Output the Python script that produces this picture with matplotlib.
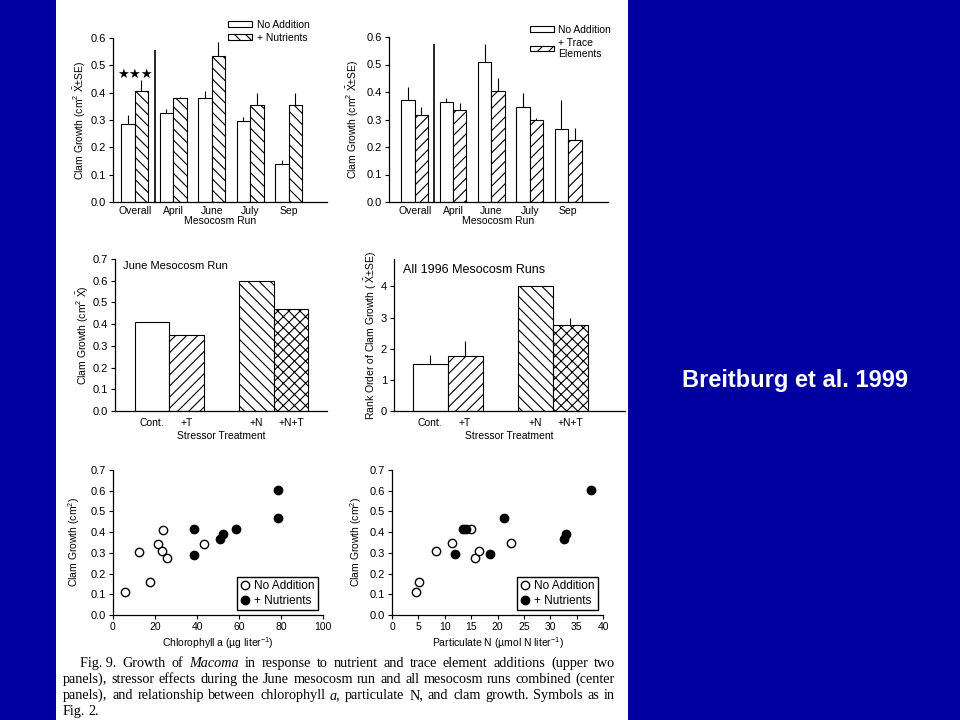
import matplotlib
matplotlib.use('Agg')
import matplotlib.pyplot as plt
from matplotlib.patches import Rectangle
from matplotlib.lines import Line2D

# --- data ---
runs = ['Overall', 'April', 'June', 'July', 'Sep']
nut_none = [0.285, 0.325, 0.38, 0.295, 0.14]
nut_none_se = [0.035, 0.015, 0.025, 0.015, 0.015]
nut_add = [0.405, 0.38, 0.535, 0.355, 0.355]
nut_add_se = [0.04, 0.005, 0.05, 0.045, 0.045]

tr_none = [0.37, 0.365, 0.51, 0.345, 0.265]
tr_none_se = [0.05, 0.015, 0.065, 0.05, 0.105]
tr_add = [0.315, 0.335, 0.405, 0.30, 0.225]
tr_add_se = [0.03, 0.025, 0.045, 0.005, 0.045]

treatments = ['Cont.', '+T', '+N', '+N+T']
june_growth = [0.41, 0.35, 0.60, 0.47]
rank_growth = [1.5, 1.75, 4.0, 2.75]
rank_se = [0.3, 0.5, 0.0, 0.25]

chl_open = [5.6, 12.3, 17.4, 21.4, 23.5, 23.7, 25.8, 43.4]
chl_open_g = [0.11, 0.306, 0.158, 0.345, 0.311, 0.41, 0.277, 0.345]
chl_fill = [38.7, 38.7, 50.9, 52.5, 58.7, 78.6, 78.6]
chl_fill_g = [0.415, 0.29, 0.365, 0.39, 0.417, 0.604, 0.467]

pn_open = [4.6, 5.2, 8.4, 11.3, 14.9, 15.7, 16.5, 22.5]
pn_open_g = [0.113, 0.161, 0.311, 0.346, 0.414, 0.277, 0.309, 0.346]
pn_fill = [11.9, 13.5, 14.0, 18.6, 21.3, 32.6, 33.0, 37.8]
pn_fill_g = [0.293, 0.417, 0.417, 0.293, 0.467, 0.366, 0.39, 0.604]

plt.rcParams['font.family'] = ['Liberation Sans', 'DejaVu Sans']
plt.rcParams['mathtext.fontset'] = 'custom'
plt.rcParams['mathtext.rm'] = 'Liberation Sans'
plt.rcParams['mathtext.it'] = 'Liberation Sans:italic'
plt.rcParams['hatch.linewidth'] = 0.8
plt.rcParams['font.size'] = 7.5

W, H = 960, 720
fig = plt.figure(figsize=(9.6, 7.2), dpi=100, facecolor='#0000a0')
fig.patches.append(Rectangle((56 / W, 0), (628 - 56) / W, 1, transform=fig.transFigure,
                             facecolor='white', edgecolor='none', zorder=-10))


def box(l, t, r, b):
    return [l / W, 1 - b / H, (r - l) / W, (b - t) / H]


def style(ax):
    ax.set_facecolor('none')
    for s in ['top', 'right']:
        ax.spines[s].set_visible(False)
    for s in ['left', 'bottom']:
        ax.spines[s].set_linewidth(0.9)
    ax.tick_params(axis='y', direction='out', length=3, width=0.8, labelsize=8, pad=2)
    ax.tick_params(axis='x', direction='out', length=3, width=0.8, labelsize=7.5, pad=2)


bar_kw = dict(edgecolor='black', linewidth=0.8)
err_kw = dict(fmt='none', ecolor='black', elinewidth=0.8, capsize=0)
xs = list(range(len(runs)))
w = 0.35

# --- panel 1: nutrients ---
ax1 = fig.add_axes(box(113, 38, 327, 202))
style(ax1)
b1 = ax1.bar([x - w / 2 for x in xs], nut_none, w, color='white', **bar_kw, label='No Addition')
b2 = ax1.bar([x + w / 2 for x in xs], nut_add, w, color='white', hatch='\\\\\\', **bar_kw, label='+ Nutrients')
ax1.errorbar([x - w / 2 for x in xs], nut_none, yerr=[[0] * 5, nut_none_se], **err_kw)
ax1.errorbar([x + w / 2 for x in xs], nut_add, yerr=[[0] * 5, nut_add_se], **err_kw)
ax1.vlines(0.52, 0, 0.555, color='black', linewidth=1.2)
ax1.text(0.0, 0.465, '★★★', ha='center', va='center', fontsize=9.5, family='DejaVu Sans')
ax1.set_xlim(-0.565, 5.0)
ax1.set_ylim(0, 0.6)
ax1.set_xticks(xs)
ax1.set_xticklabels(runs)
ax1.tick_params(axis='x', length=0, pad=3)
ax1.set_yticks([0, 0.1, 0.2, 0.3, 0.4, 0.5, 0.6])
ax1.set_yticklabels(['0.0', '0.1', '0.2', '0.3', '0.4', '0.5', '0.6'])
ax1.set_xlabel('Mesocosm Run', labelpad=0)
ax1.set_ylabel(r'Clam Growth (cm$^2$ $\bar{\mathrm{X}}$±SE)', labelpad=2)
ax1.legend(handles=[b1, b2], loc='upper left', bbox_to_anchor=(228 / W, 1 - 20 / H),
           bbox_transform=fig.transFigure, frameon=False, handlelength=2.3, handleheight=0.45,
           handletextpad=0.5, labelspacing=0.25, borderpad=0, borderaxespad=0, fontsize=7.5)

# --- panel 2: trace elements ---
ax2 = fig.add_axes(box(389, 37, 608, 202))
style(ax2)
c1 = ax2.bar([x - w / 2 for x in xs], tr_none, w, color='white', **bar_kw, label='No Addition')
c2 = ax2.bar([x + w / 2 for x in xs], tr_add, w, color='white', hatch='///', **bar_kw, label='+ Trace\nElements')
ax2.errorbar([x - w / 2 for x in xs], tr_none, yerr=[[0] * 5, tr_none_se], **err_kw)
ax2.errorbar([x + w / 2 for x in xs], tr_add, yerr=[[0] * 5, tr_add_se], **err_kw)
ax2.vlines(0.5, 0, 0.575, color='black', linewidth=1.2)
ax2.set_xlim(-0.67, 5.04)
ax2.set_ylim(0, 0.6)
ax2.set_xticks(xs)
ax2.set_xticklabels(runs)
ax2.tick_params(axis='x', length=0, pad=3)
ax2.set_yticks([0, 0.1, 0.2, 0.3, 0.4, 0.5, 0.6])
ax2.set_yticklabels(['0.0', '0.1', '0.2', '0.3', '0.4', '0.5', '0.6'])
ax2.set_xlabel('Mesocosm Run', labelpad=0)
ax2.set_ylabel(r'Clam Growth (cm$^2$ $\bar{\mathrm{X}}$±SE)', labelpad=4)
ax2.legend(handles=[c1, c2], loc='upper left', bbox_to_anchor=(530 / W, 1 - 25 / H),
           bbox_transform=fig.transFigure, frameon=False, handlelength=2.3, handleheight=0.45,
           handletextpad=0.4, labelspacing=0.25, borderpad=0, borderaxespad=0, fontsize=7.5)

# --- panels 3 and 4: stressor treatment ---
tx = [0, 1, 3, 4]
hatches = [None, '///', '\\\\\\', 'xxx']

ax3 = fig.add_axes(box(115, 259, 327, 411))
style(ax3)
for x, v, h in zip(tx, june_growth, hatches):
    ax3.bar(x, v, 1.0, color='white', hatch=h, **bar_kw)
ax3.set_xlim(-1.07, 5.04)
ax3.set_ylim(0, 0.7)
ax3.set_xticks(tx)
ax3.set_xticklabels(treatments)
ax3.tick_params(axis='x', length=0, pad=5)
ax3.set_yticks([0, 0.1, 0.2, 0.3, 0.4, 0.5, 0.6, 0.7])
ax3.set_yticklabels(['0.0', '0.1', '0.2', '0.3', '0.4', '0.5', '0.6', '0.7'])
ax3.set_xlabel('Stressor Treatment', labelpad=2)
ax3.set_ylabel(r'Clam Growth (cm$^2$ $\bar{\mathrm{X}}$)', labelpad=1)
ax3.text(0.04, 0.985, 'June Mesocosm Run', transform=ax3.transAxes, ha='left', va='top', fontsize=8)

ax4 = fig.add_axes(box(394, 259, 625, 411))
style(ax4)
for x, v, h in zip(tx, rank_growth, hatches):
    ax4.bar(x, v, 1.0, color='white', hatch=h, **bar_kw)
ax4.errorbar(tx, rank_growth, yerr=[[0] * 4, rank_se], **err_kw)
ax4.set_xlim(-1.03, 5.57)
ax4.set_ylim(0, 4.88)
ax4.set_xticks(tx)
ax4.set_xticklabels(treatments)
ax4.tick_params(axis='x', length=0, pad=5)
ax4.set_yticks([0, 1, 2, 3, 4])
ax4.set_xlabel('Stressor Treatment', labelpad=2)
ax4.set_ylabel(r'Rank Order of Clam Growth ( $\bar{\mathrm{X}}$±SE)', labelpad=1)
ax4.text(0.04, 0.97, 'All 1996 Mesocosm Runs', transform=ax4.transAxes, ha='left', va='top', fontsize=9)


# --- panels 5 and 6: scatter ---
def scatter_panel(ax, xo, yo, xf, yf):
    style(ax)
    ax.plot(xo, yo, 'o', mfc='white', mec='black', mew=1.0, ms=6, linestyle='none')
    ax.plot(xf, yf, 'o', mfc='black', mec='black', mew=1.0, ms=6, linestyle='none')
    ax.set_ylim(0, 0.7)
    ax.set_yticks([0, 0.1, 0.2, 0.3, 0.4, 0.5, 0.6, 0.7])
    ax.set_yticklabels(['0.0', '0.1', '0.2', '0.3', '0.4', '0.5', '0.6', '0.7'])
    hs = [Line2D([], [], marker='o', mfc='white', mec='black', mew=1.0, ms=6, linestyle='none'),
          Line2D([], [], marker='o', mfc='black', mec='black', mew=1.0, ms=6, linestyle='none')]
    lg = ax.legend(hs, ['No Addition', '+ Nutrients'], loc='lower right', fontsize=8.5,
                   fancybox=False, edgecolor='black', framealpha=1, handlelength=0.8,
                   handletextpad=0.4, borderpad=0.3, labelspacing=0.2, borderaxespad=0.4)
    lg.get_frame().set_linewidth(1.0)


ax5 = fig.add_axes(box(113, 470, 323, 615))
scatter_panel(ax5, chl_open, chl_open_g, chl_fill, chl_fill_g)
ax5.set_ylabel(r'Clam Growth (cm$^2$)', labelpad=6)
ax5.set_xlim(0, 100)
ax5.set_xticks([0, 20, 40, 60, 80, 100])
ax5.set_xlabel(r'Chlorophyll a (µg liter$^{-1}$)', labelpad=2)

ax6 = fig.add_axes(box(392, 470, 603, 615))
scatter_panel(ax6, pn_open, pn_open_g, pn_fill, pn_fill_g)
ax6.set_ylabel(r'Clam Growth (cm$^2$)', labelpad=4)
ax6.set_xlim(0, 40)
ax6.set_xticks([0, 5, 10, 15, 20, 25, 30, 35, 40])
ax6.set_xlabel(r'Particulate N (µmol N liter$^{-1}$)', labelpad=2)

# --- caption (justified, words placed one by one) ---
cap_size = 10.2
caption = [
    (80, 667, True, [('Fig. 9.', 'normal'), ('Growth', 'normal'), ('of', 'normal'), ('Macoma', 'italic'),
                     ('in', 'normal'), ('response', 'normal'), ('to', 'normal'), ('nutrient', 'normal'),
                     ('and', 'normal'), ('trace', 'normal'), ('element', 'normal'), ('additions', 'normal'),
                     ('(upper', 'normal'), ('two', 'normal')]),
    (63, 683, True, [(s, 'normal') for s in 'panels), stressor effects during the June mesocosm run and all mesocosm runs combined (center'.split()]),
    (63, 699, True, [('panels),', 'normal'), ('and', 'normal'), ('relationship', 'normal'), ('between', 'normal'),
                     ('chlorophyll', 'normal'), ('a,', 'italic'), ('particulate', 'normal'), ('N,', 'normal'),
                     ('and', 'normal'), ('clam', 'normal'), ('growth.', 'normal'), ('Symbols', 'normal'),
                     ('as', 'normal'), ('in', 'normal')]),
    (63, 715, False, [('Fig.', 'normal'), ('2.', 'normal')]),
]
right_edge = 615
renderer = fig.canvas.get_renderer()
for x0, y0, justify, words in caption:
    texts = [fig.text(x0 / W, 1 - y0 / H, s, style=st, family='Liberation Serif',
                      fontsize=cap_size, va='baseline', ha='left') for s, st in words]
    widths = [t.get_window_extent(renderer).width for t in texts]
    if justify:
        gap = (right_edge - x0 - sum(widths)) / (len(texts) - 1)
    else:
        gap = cap_size * 100 / 72 * 0.25
    x = x0
    for t, wd in zip(texts, widths):
        t.set_x(x / W)
        x += wd + gap

fig.text(795 / W, 1 - 381 / H, 'Breitburg et al. 1999', color='white', fontsize=17,
         fontweight='bold', ha='center', va='center')

fig.savefig('out.png', dpi=100, facecolor=fig.get_facecolor())
